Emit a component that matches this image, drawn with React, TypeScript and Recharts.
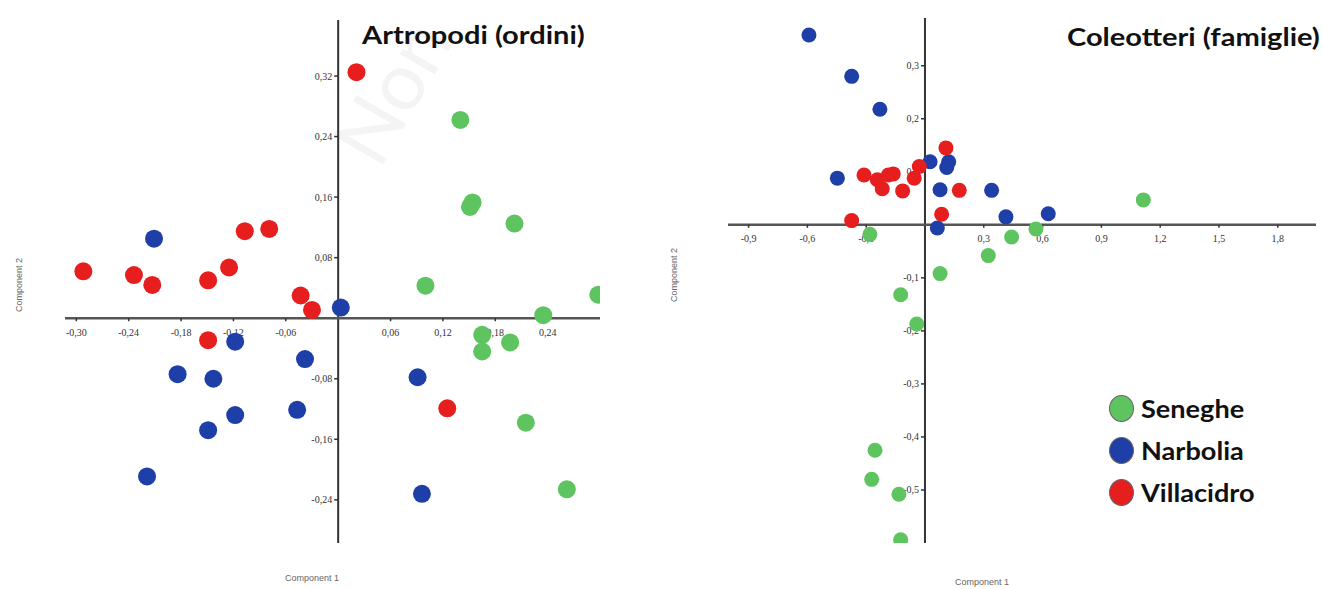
import { ScatterChart, Scatter, XAxis, YAxis, ReferenceLine } from 'recharts'

type Pt = { x: number; y: number }

const GREEN = '#5ec45f'
const BLUE = '#1e3ea8'
const RED = '#e61e1e'

// Artropodi (ordini) - PCA scores
const artroSeneghe: Pt[] = [
  { x: 0.140, y: 0.262 }, { x: 0.151, y: 0.147 }, { x: 0.154, y: 0.153 }, { x: 0.202, y: 0.125 },
  { x: 0.100, y: 0.043 }, { x: 0.298, y: 0.031 }, { x: 0.235, y: 0.004 }, { x: 0.165, y: -0.022 },
  { x: 0.165, y: -0.044 }, { x: 0.197, y: -0.032 }, { x: 0.215, y: -0.138 }, { x: 0.262, y: -0.226 },
]
const artroNarbolia: Pt[] = [
  { x: -0.211, y: 0.105 }, { x: 0.003, y: 0.014 }, { x: -0.118, y: -0.031 }, { x: 0.091, y: -0.078 },
  { x: 0.096, y: -0.232 }, { x: -0.038, y: -0.054 }, { x: -0.184, y: -0.074 }, { x: -0.143, y: -0.080 },
  { x: -0.047, y: -0.121 }, { x: -0.118, y: -0.128 }, { x: -0.149, y: -0.148 }, { x: -0.219, y: -0.209 },
]
const artroVillacidro: Pt[] = [
  { x: -0.292, y: 0.062 }, { x: -0.234, y: 0.057 }, { x: -0.213, y: 0.044 }, { x: -0.149, y: 0.050 },
  { x: -0.125, y: 0.067 }, { x: -0.107, y: 0.115 }, { x: -0.079, y: 0.118 }, { x: -0.043, y: 0.030 },
  { x: -0.030, y: 0.011 }, { x: -0.149, y: -0.029 }, { x: 0.021, y: 0.325 }, { x: 0.125, y: -0.119 },
]
const artroXTicks = [-0.3, -0.24, -0.18, -0.12, -0.06, 0.06, 0.12, 0.18, 0.24]
const artroYTicks = [0.32, 0.24, 0.16, 0.08, -0.08, -0.16, -0.24]

// Coleotteri (famiglie) - PCA scores
const coleoSeneghe: Pt[] = [
  { x: 1.114, y: 0.047 }, { x: 0.566, y: -0.008 }, { x: 0.442, y: -0.023 }, { x: 0.323, y: -0.058 },
  { x: -0.281, y: -0.018 }, { x: 0.077, y: -0.092 }, { x: -0.124, y: -0.132 }, { x: -0.042, y: -0.187 },
  { x: -0.255, y: -0.425 }, { x: -0.272, y: -0.48 }, { x: -0.133, y: -0.508 }, { x: -0.124, y: -0.594 },
]
const coleoNarbolia: Pt[] = [
  { x: -0.592, y: 0.358 }, { x: -0.374, y: 0.28 }, { x: -0.23, y: 0.218 }, { x: -0.447, y: 0.088 },
  { x: 0.026, y: 0.119 }, { x: 0.121, y: 0.119 }, { x: 0.111, y: 0.108 }, { x: 0.077, y: 0.066 },
  { x: 0.34, y: 0.065 }, { x: 0.063, y: -0.006 }, { x: 0.413, y: 0.015 }, { x: 0.629, y: 0.021 },
]
const coleoVillacidro: Pt[] = [
  { x: -0.311, y: 0.094 }, { x: -0.243, y: 0.085 }, { x: -0.218, y: 0.068 }, { x: -0.187, y: 0.094 },
  { x: -0.162, y: 0.096 }, { x: -0.114, y: 0.064 }, { x: -0.055, y: 0.088 }, { x: -0.029, y: 0.11 },
  { x: 0.107, y: 0.145 }, { x: 0.175, y: 0.065 }, { x: 0.085, y: 0.02 }, { x: -0.374, y: 0.008 },
]
const coleoXTicks = [-0.9, -0.6, -0.3, 0.3, 0.6, 0.9, 1.2, 1.5, 1.8]
const coleoYTicks = [0.3, 0.2, 0.1, -0.1, -0.2, -0.3, -0.4, -0.5]

const sites = ['Seneghe', 'Narbolia', 'Villacidro']
const siteColors = [GREEN, BLUE, RED]

const fmt = (v: number, d: number) => v.toFixed(d).replace('.', ',')

const tickFont = { fontFamily: '"Liberation Serif", serif', fontSize: 10, fill: '#333' }

function xTickShape(digits: number) {
  return (p: any) => (
    <g>
      <line x1={p.cx} y1={p.cy} x2={p.cx} y2={p.cy + 3} stroke="#333" strokeWidth={1.5} />
      <text x={p.cx} y={p.cy + 14} textAnchor="middle" dominantBaseline="central" {...tickFont}>
        {fmt(p.payload.x, digits)}
      </text>
    </g>
  )
}

function yTickShape(digits: number) {
  return (p: any) => (
    <g>
      <line x1={p.cx - 4} y1={p.cy} x2={p.cx} y2={p.cy} stroke="#333" strokeWidth={1.5} />
      <text x={p.cx - 6} y={p.cy} textAnchor="end" dominantBaseline="central" {...tickFont}>
        {fmt(p.payload.y, digits)}
      </text>
    </g>
  )
}

function dot(color: string, r: number) {
  return (p: any) => <circle cx={p.cx} cy={p.cy} r={r} fill={color} />
}

interface PanelProps {
  width: number
  height: number
  margin: { top: number; right: number; bottom: number; left: number }
  xDomain: [number, number]
  yDomain: [number, number]
  series: Pt[][]
  xTicks: number[]
  yTicks: number[]
  digits: number
  r: number
}

function PcaPanel({ width, height, margin, xDomain, yDomain, series, xTicks, yTicks, digits, r }: PanelProps) {
  return (
    <ScatterChart width={width} height={height} margin={margin}>
      <XAxis type="number" dataKey="x" domain={xDomain} allowDataOverflow hide />
      <YAxis type="number" dataKey="y" domain={yDomain} allowDataOverflow hide />
      <ReferenceLine x={0} stroke="#333" strokeWidth={2} />
      <ReferenceLine y={0} stroke="#555" strokeWidth={2.5} />
      <Scatter data={xTicks.map(v => ({ x: v, y: 0 }))} shape={xTickShape(digits)} isAnimationActive={false} legendType="none" />
      <Scatter data={yTicks.map(v => ({ x: 0, y: v }))} shape={yTickShape(digits)} isAnimationActive={false} legendType="none" />
      {series.map((s, i) => (
        <Scatter key={sites[i]} name={sites[i]} data={s} shape={dot(siteColors[i], r)} isAnimationActive={false} />
      ))}
    </ScatterChart>
  )
}

const titleStyle: React.CSSProperties = {
  position: 'absolute',
  fontFamily: 'Lato, "Open Sans", sans-serif',
  fontWeight: 700,
  fontSize: 24,
  color: '#111',
  whiteSpace: 'nowrap',
  lineHeight: 1,
  transform: 'scaleX(1.21)',
  transformOrigin: 'left center',
}

const axisTitle: React.CSSProperties = {
  position: 'absolute',
  fontFamily: '"Liberation Sans", Arial, sans-serif',
  fontSize: 9,
  color: '#666',
  whiteSpace: 'nowrap',
}

export default function App() {
  return (
    <div style={{ position: 'absolute', left: 0, top: 0, width: 1323, height: 589, background: '#fff', overflow: 'hidden' }}>
      <div style={{ position: 'absolute', left: 315, top: 50, transform: 'rotate(-60deg)', fontFamily: 'Lato, sans-serif', fontSize: 80, lineHeight: 1, color: '#f4f4f4' }}>
        Non
      </div>
      <div style={{ position: 'absolute', left: 0, top: 0 }}>
        <PcaPanel
          width={660}
          height={589}
          margin={{ top: 20, right: 60, bottom: 46, left: 65 }}
          xDomain={[-0.313, 0.3]}
          yDomain={[-0.297, 0.394]}
          series={[artroSeneghe, artroNarbolia, artroVillacidro]}
          xTicks={artroXTicks}
          yTicks={artroYTicks}
          digits={2}
          r={9}
        />
      </div>
      <div style={{ position: 'absolute', left: 660, top: 0 }}>
        <PcaPanel
          width={663}
          height={589}
          margin={{ top: 18, right: 7, bottom: 46, left: 68 }}
          xDomain={[-1.005, 1.995]}
          yDomain={[-0.6, 0.39]}
          series={[coleoSeneghe, coleoNarbolia, coleoVillacidro]}
          xTicks={coleoXTicks}
          yTicks={coleoYTicks}
          digits={1}
          r={7.5}
        />
      </div>

      <div style={{ ...titleStyle, left: 362, top: 23 }}>Artropodi (ordini)</div>
      <div style={{ ...titleStyle, left: 1067, top: 25 }}>Coleotteri (famiglie)</div>

      <div style={{ ...axisTitle, left: 285, top: 573 }}>Component 1</div>
      <div style={{ ...axisTitle, left: 955, top: 577 }}>Component 1</div>
      <div style={{ ...axisTitle, left: -8, top: 280, transform: 'rotate(-90deg)' }}>Component 2</div>
      <div style={{ ...axisTitle, left: 647, top: 270, transform: 'rotate(-90deg)' }}>Component 2</div>

      <div style={{ position: 'absolute', left: 1109, top: 387 }}>
        {sites.map((s, i) => (
          <div key={s} style={{ display: 'flex', alignItems: 'center', height: 42 }}>
            <span style={{ width: 25, height: 27, borderRadius: '50%', background: siteColors[i], border: '1px solid #666', boxSizing: 'border-box', display: 'inline-block' }} />
            <span style={{ marginLeft: 7, fontFamily: 'Lato, "Open Sans", sans-serif', fontWeight: 700, fontSize: 24, color: '#111', display: 'inline-block', transform: 'scaleX(1.13)', transformOrigin: 'left center' }}>{s}</span>
          </div>
        ))}
      </div>
    </div>
  )
}
